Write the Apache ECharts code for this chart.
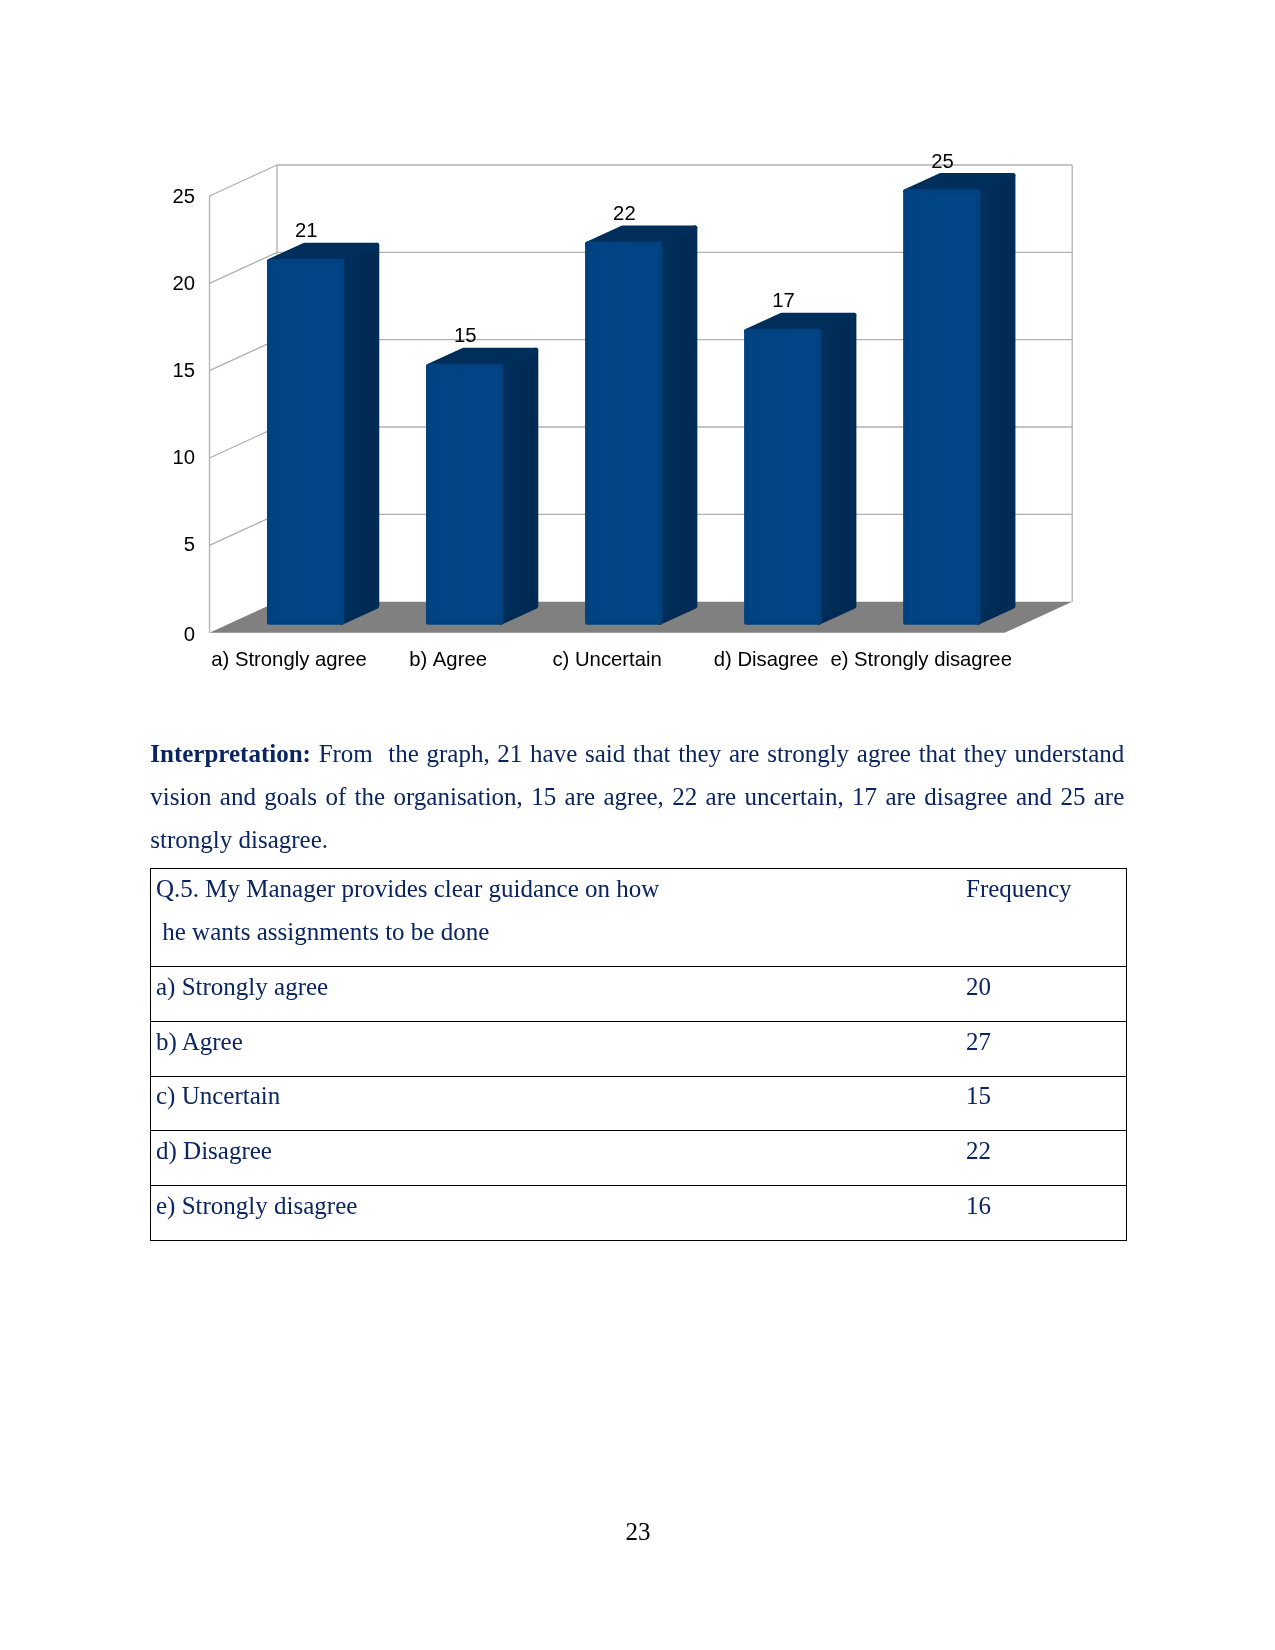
<!DOCTYPE html>
<html>
<head>
<meta charset="utf-8">
<title>Chart</title>
<script src="https://cdn.jsdelivr.net/npm/echarts@6/dist/echarts.min.js"></script>
<style>
html,body{margin:0;padding:0;background:#fff;}
#page{position:relative;width:1275px;height:1650px;overflow:hidden;}
#chart{position:absolute;left:0;top:0;width:1275px;height:1650px;}
.t{position:absolute;font-family:"Liberation Serif",serif;font-size:25px;line-height:28px;color:#0a2560;white-space:pre;}
.j{white-space:normal;text-align:justify;text-align-last:justify;}
.r{position:absolute;background:#000;}
</style>
</head>
<body>
<div id="page"><div id="chart"></div></div>
<script>
const categories = ['a) Strongly agree', 'b) Agree', 'c) Uncertain', 'd) Disagree', 'e) Strongly disagree'];
const values = [21, 15, 22, 17, 25];
const yTicks = [0, 5, 10, 15, 20, 25];

const paragraphLines = [
  'From\u00a0 the graph, 21 have said that they are strongly agree that they understand',
  'vision and goals of the organisation, 15 are agree, 22 are uncertain, 17 are disagree and 25 are',
  'strongly disagree.'
];
const tableHead = ['Q.5. My Manager provides clear guidance on how', ' he wants assignments to be done', 'Frequency'];
const tableCategories = ['a) Strongly agree', 'b) Agree', 'c) Uncertain', 'd) Disagree', 'e) Strongly disagree'];
const tableValues = [20, 27, 15, 22, 16];
const pageNumber = '23';

/* ---- 3D look: oblique depth offsets, in pixels ---- */
const DX = 67.5, DY = -31;          // full floor depth
const BX0 = 16.6, BY0 = -8;         // front plane of the bars
const BX1 = 35,  BY1 = -16;         // bar depth
const BAR_FRACTION = 0.486;
const GRID_COL = '#b0b0b0';
const FS = 20.3;

const chart = echarts.init(document.getElementById('chart'));

function line(x1, y1, x2, y2, w) {
  return { type: 'line', shape: { x1, y1, x2, y2 }, style: { stroke: GRID_COL, lineWidth: w || 1.3 }, silent: true };
}
const tickRich = { color: '#000', fontFamily: 'Liberation Sans', fontSize: FS };

chart.setOption({
  animation: false,
  backgroundColor: '#fff',
  grid: { left: 209.5, right: 270.3, top: 196, bottom: 1017.3, containLabel: false },
  xAxis: {
    type: 'category',
    data: categories.map((c, i) => i === categories.length - 1
      ? { value: c, textStyle: { padding: [0, 8, 0, 0] } } : c),
    axisLine: { show: false }, axisTick: { show: false }, splitLine: { show: false },
    axisLabel: { interval: 0, margin: 18, color: '#000', fontFamily: 'Liberation Sans', fontSize: FS, hideOverlap: false }
  },
  yAxis: {
    type: 'value', min: 0, max: 25, interval: 5,
    axisLine: { show: false }, axisTick: { show: false }, splitLine: { show: false },
    axisLabel: {
      margin: 14.5, color: '#000', fontFamily: 'Liberation Sans', fontSize: FS,
      verticalAlign: 'middle', verticalAlignMinLabel: 'middle', verticalAlignMaxLabel: 'middle',
      formatter: v => v === 0 ? '{z|' + v + '}' : (v === 10 || v === 5 ? '{m|' + v + '}' : '{a|' + v + '}'),
      rich: {
        a: Object.assign({ padding: [2, 0, 0, 0] }, tickRich),
        m: Object.assign({ padding: [0, 0, 0, 0] }, tickRich),
        z: Object.assign({ padding: [5, 0, 0, 0] }, tickRich)
      }
    }
  },
  series: [
    { // gridlines on the walls
      type: 'custom', coordinateSystem: 'cartesian2d', z: 1, silent: true,
      data: yTicks.map(v => [0, v]),
      renderItem(params, api) {
        const v = api.value(1);
        const cs = params.coordSys;
        const p = api.coord([0, v]);
        const y = p[1], xl = cs.x, xr = cs.x + cs.width;
        const kids = [];
        if (v > 0) {
          kids.push(line(xl, y, xl + DX, y + DY));
          kids.push(line(xl + DX, y + DY, xr + DX, y + DY));
        }
        if (v === 25) {
          const y0 = api.coord([0, 0])[1];
          kids.push(line(xl, y, xl, y0));
          kids.push(line(xl + DX, y + DY, xl + DX, y0 + DY));
          kids.push(line(xr + DX, y + DY, xr + DX, y0 + DY));
        }
        return { type: 'group', children: kids };
      }
    },
    { // grey floor
      type: 'custom', coordinateSystem: 'cartesian2d', z: 2, silent: true,
      data: [[0, 0]],
      renderItem(params, api) {
        const cs = params.coordSys;
        const y = api.coord([0, 0])[1], xl = cs.x, xr = cs.x + cs.width;
        return {
          type: 'polygon',
          shape: { points: [[xl, y], [xl + DX, y + DY], [xr + DX, y + DY], [xr, y]] },
          style: { fill: '#808080' }
        };
      }
    },
    { // bars
      type: 'custom', coordinateSystem: 'cartesian2d', z: 3, silent: true,
      data: values.map((v, i) => [i, v]),
      renderItem(params, api) {
        const top = api.coord([api.value(0), api.value(1)]);
        const base = api.coord([api.value(0), 0]);
        const w = api.size([1, 0])[0] * BAR_FRACTION;
        const L = top[0] + BX0 - w / 2, R = L + w;
        const T = top[1] + BY0 + 1, B = base[1] + BY0;
        const ins = 2.5;
        const poly = (pts, fill, stroke) => ({
          type: 'polygon', shape: { points: pts },
          style: { fill, stroke, lineWidth: 5, lineJoin: 'round' }
        });
        const sideGrad = new echarts.graphic.LinearGradient(0, 0, 1, 0, [
          { offset: 0, color: '#00325f' }, { offset: 0.6, color: '#002b54' }, { offset: 1, color: '#002a52' }
        ]);
        const frontGrad = new echarts.graphic.LinearGradient(0, 0, 1, 0, [
          { offset: 0, color: '#004483' }, { offset: 1, color: '#004586' }
        ]);
        return {
          type: 'group',
          children: [
            poly([[R - ins, T + ins], [R + BX1 - ins, T + BY1 + ins], [R + BX1 - ins, B + BY1 - ins], [R - ins, B - ins]], sideGrad, '#002b54'),
            poly([[L + ins, T + ins], [L + BX1 + ins, T + BY1 + ins], [R + BX1 - ins, T + BY1 + ins], [R - ins, T + ins]], '#002e5b', '#002e5b'),
            poly([[L + ins, T + ins], [R - ins, T + ins], [R - ins, B - ins], [L + ins, B - ins]], frontGrad, '#00417f'),
            {
              type: 'text',
              style: {
                x: (L + R) / 2 + 0.7, y: T - 27, text: String(api.value(1)),
                fill: '#000', font: FS + 'px "Liberation Sans"', align: 'center', verticalAlign: 'middle'
              }
            }
          ]
        };
      }
    }
  ]
});

/* ---- text and table of the page ---- */
const page = document.getElementById('page');
function text(str, x, baseline, cls, w) {
  const d = document.createElement('div');
  d.className = 't' + (cls ? ' ' + cls : '');
  d.style.left = x + 'px';
  d.style.top = (baseline - 22.4) + 'px';
  if (w) d.style.width = w + 'px';
  d.textContent = str;
  page.appendChild(d);
  return d;
}
function rule(x, y, w, h) {
  const d = document.createElement('div');
  d.className = 'r';
  d.style.cssText = `left:${x}px;top:${y}px;width:${w}px;height:${h}px;`;
  page.appendChild(d);
}
const PL = 150.3, PW = 974;
const first = text('', PL, 762.7, 'j', PW);
const b = document.createElement('b');
b.textContent = 'Interpretation:';
first.appendChild(b);
first.appendChild(document.createTextNode(' ' + paragraphLines[0]));
text(paragraphLines[1], PL, 805, 'j', PW);
text(paragraphLines[2], PL, 848, '');

const rowLines = [868, 966, 1021, 1076, 1130, 1185, 1240];
rowLines.forEach(y => rule(150, y, 977, 1.4));
rule(150, 868, 1.4, 373.4);
rule(1126, 868, 1.4, 373.4);

text(tableHead[0], 156, 897.7);
text(tableHead[1], 156, 940);
text(tableHead[2], 966, 897.7);
const rowBase = [995, 1050, 1104, 1159, 1214];
tableCategories.forEach((c, i) => {
  text(c, 156, rowBase[i]);
  text(String(tableValues[i]), 966, rowBase[i]);
});
const pn = text(pageNumber, 625.5, 1540);
pn.style.color = '#000';
</script>
</body>
</html>
